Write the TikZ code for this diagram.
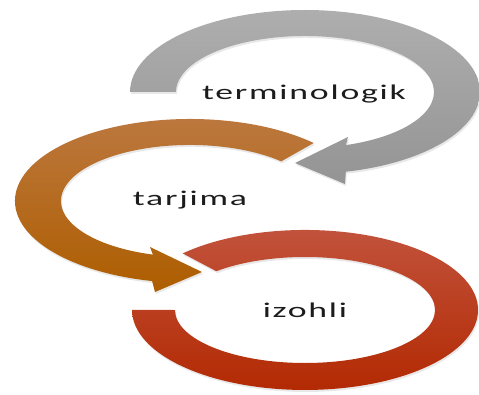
\documentclass[tikz,border=0pt]{standalone}
\usepackage{fontspec}
\usepackage{graphicx}
\usetikzlibrary{shadows}
\newfontfamily\lblfont[LetterSpace=5]{Carlito}
\definecolor{grayTop}{RGB}{174,174,174}
\definecolor{grayBot}{RGB}{148,148,148}
\definecolor{orTop}{RGB}{188,120,64}
\definecolor{orBot}{RGB}{174,94,0}
\definecolor{redTop}{RGB}{194,84,62}
\definecolor{redBot}{RGB}{178,40,0}
\definecolor{txt}{RGB}{28,28,28}
\tikzset{
  ringshape/.style={draw=none, drop shadow={opacity=0.18, shadow xshift=1pt, shadow yshift=-2pt}},
  lbl/.style={anchor=base, inner sep=0pt, text=txt, font=\lblfont\fontsize{21}{25}\selectfont}
}
\newcommand{\stretchlbl}[1]{\scalebox{1.7}[1]{#1}}
\begin{document}
\begin{tikzpicture}[x=1pt,y=1pt]
\useasboundingbox (0,0) rectangle (479,394);
% red ring (izohli)
\path[ringshape, top color=redTop, bottom color=redBot]
  (182.7,140.6) arc[start angle=135, end angle=-180, x radius=173, y radius=80]
  -- (175,84) arc[start angle=-180, end angle=133, x radius=130, y radius=53]
  -- cycle;
% orange arrow (tarjima)
\path[ringshape, top color=orTop, bottom color=orBot]
  (313.7,251) arc[start angle=45, end angle=257.5, x radius=175, y radius=82]
  -- (155,102) -- (202,122) -- (150,147) -- (152.9,139.4)
  arc[start angle=253.3, end angle=45, x radius=129, y radius=56]
  -- cycle;
% gray arrow (terminologik)
\path[ringshape, top color=grayTop, bottom color=grayBot]
  (130,302) arc[start angle=180, end angle=-76.5, x radius=175, y radius=82]
  -- (345,210) -- (295,231) -- (348,257) -- (345.9,248.9)
  arc[start angle=-71.5, end angle=180, x radius=129, y radius=56]
  -- cycle;
% labels
\node[lbl] (terminologik) at (304,294) {\stretchlbl{terminologik}};
\node[lbl] (tarjima) at (190,188) {\stretchlbl{tarjima}};
\node[lbl] (izohli) at (305,77) {\stretchlbl{izohli}};
\end{tikzpicture}
\end{document}
